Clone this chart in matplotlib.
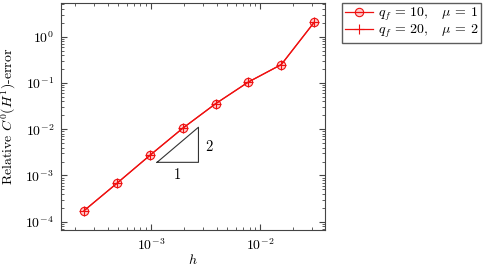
import numpy as np
import matplotlib.pyplot as plt

plt.rcParams['font.family'] = 'serif'
plt.rcParams['font.serif'] = ['cmr10']
plt.rcParams['mathtext.fontset'] = 'cm'
plt.rcParams['axes.formatter.use_mathtext'] = True

# mesh sizes and relative errors (both runs lie on top of each other)
h = [1/4096, 1/2048, 1/1024, 1/512, 1/256, 1/128, 1/64, 1/32]
err_q10 = [1.74e-4, 6.8e-4, 2.72e-3, 1.05e-2, 3.56e-2, 0.105, 0.25, 2.05]
err_q20 = [1.74e-4, 6.8e-4, 2.72e-3, 1.05e-2, 3.56e-2, 0.105, 0.25, 2.05]

# slope triangle
tri_x = [1.135e-3, 2.72e-3]
tri_y0 = 1.92e-3

fig = plt.figure(figsize=(4.95, 2.69), dpi=100)
ax = fig.add_axes([0.123, 0.145, 0.534, 0.844])

ax.plot(h, err_q10, color='#ee1111', lw=0.9, marker='o', ms=6, mfc=(1, 0, 0, 0.2),
        mec='#ee1111', mew=0.8, label=r'$q_f\, =\, 10,\quad \mu\, =\, 1$')
ax.plot(h, err_q20, color='#ee1111', lw=0.9, marker='+', ms=6.5, mew=0.8,
        label=r'$q_f\, =\, 20,\quad \mu\, =\, 2$')

x0, x1 = tri_x
y1 = tri_y0 * (x1 / x0) ** 2
ax.plot([x0, x1, x1, x0], [tri_y0, tri_y0, y1, tri_y0], color='#333333', lw=0.8)
ax.text(np.sqrt(x0 * x1), tri_y0 * 0.75, '1', ha='center', va='top', fontsize=10.5)
ax.text(x1 * 1.15, np.sqrt(tri_y0 * y1) * 0.9, '2', ha='left', va='center', fontsize=10.5)

ax.set_xscale('log')
ax.set_yscale('log')
ax.set_xlim(10**-3.826, 10**-1.404)
ax.set_ylim(10**-4.18, 10**0.73)
ax.set_xticks([1e-3, 1e-2])
ax.set_yticks([1e-4, 1e-3, 1e-2, 1e-1, 1e0])
ax.tick_params(which='both', direction='in', top=True, right=True, labelsize=10,
               color='#444444')
ax.tick_params(which='major', length=4, pad=5)
ax.tick_params(which='minor', length=2)
for s in ax.spines.values():
    s.set_color('#444444')

ax.set_xlabel(r'$h$', fontsize=10, labelpad=0)
ax.set_ylabel(r'Relative $C^0(H^1)$-error', fontsize=10, labelpad=5)

ax.legend(loc='upper left', bbox_to_anchor=(1.064, 1.0), fontsize=10,
          frameon=True, fancybox=False, edgecolor='#333333', handlelength=2.0,
          borderpad=0.2, labelspacing=0.0, handletextpad=0.4, borderaxespad=0)

fig.savefig('out.png', dpi=100)
